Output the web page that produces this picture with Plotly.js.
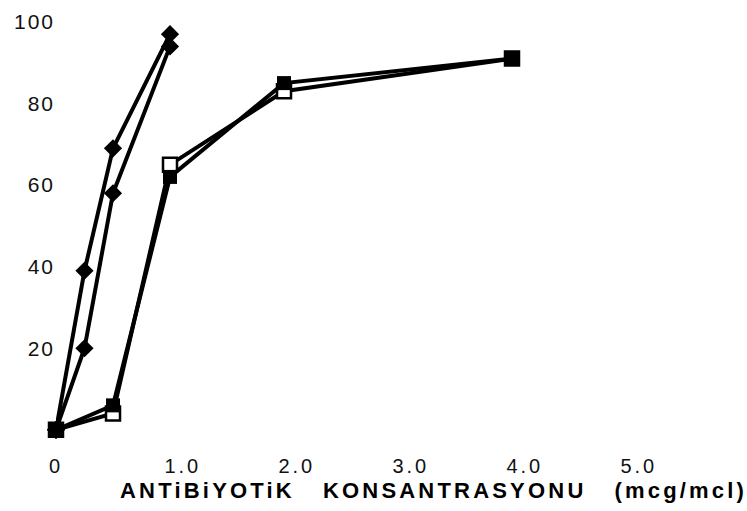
<!DOCTYPE html>
<html>
<head>
<meta charset="utf-8">
<script src="https://cdn.plot.ly/plotly-3.0.1.min.js"></script>
<style>
html,body{margin:0;padding:0;background:#fff;}
#chart{width:747px;height:511px;}
#chart .xtick text{letter-spacing:3px;}
#chart .ytick text{letter-spacing:2px;}
#chart .annotation-text{letter-spacing:3.2px;}
</style>
</head>
<body>
<div id="chart"></div>
<script>
// Antibiotic concentration (mcg/mcl)
const diamondAx = [0, 0.25, 0.5, 1.0];
const diamondAy = [0, 39, 69, 97];
const diamondBx = [0, 0.25, 0.5, 1.0];
const diamondBy = [0, 20, 58, 94];
const squareOpenX = [0, 0.5, 1.0, 2.0, 4.0];
const squareOpenY = [0, 4, 65, 83, 91];
const squareFillX = [0, 0.5, 1.0, 2.0, 4.0];
const squareFillY = [0, 6, 62, 85, 91];
const xTickVals = [0, 1, 2, 3, 4, 5];
const xTickText = ['0', '\u00a0\u00a0\u00a01.0', '\u00a0\u00a0\u00a02.0', '\u00a0\u00a0\u00a03.0', '\u00a0\u00a0\u00a04.0', '\u00a0\u00a0\u00a05.0'];
const yTickVals = [20, 40, 60, 80, 100];
const yTickText = ['20', '40', '60', '80', '100'];
const xTitle = 'ANTiBiYOTiK\u00a0\u00a0\u00a0KONSANTRASYONU\u00a0\u00a0\u00a0(mcg/mcl)';

const lineStyle = {color: '#000', width: 4};
const traces = [
  {x: diamondAx, y: diamondAy, mode: 'lines+markers', line: lineStyle, cliponaxis: false,
   marker: {symbol: 'diamond', size: 14, color: '#000'}},
  {x: diamondBx, y: diamondBy, mode: 'lines+markers', line: lineStyle, cliponaxis: false,
   marker: {symbol: 'diamond', size: 14, color: '#000'}},
  {x: squareOpenX, y: squareOpenY, mode: 'lines+markers', line: lineStyle, cliponaxis: false,
   marker: {symbol: 'square', size: 14, color: '#fff', line: {color: '#000', width: 2.5}}},
  {x: squareFillX, y: squareFillY, mode: 'lines+markers', line: lineStyle, cliponaxis: false,
   marker: {symbol: 'square', size: 14, color: '#000'}}
];

const layout = {
  width: 747, height: 511,
  margin: {l: 56, r: 7, t: 6, b: 73},
  paper_bgcolor: '#fff', plot_bgcolor: '#fff',
  showlegend: false,
  font: {family: 'Liberation Sans, Arial, sans-serif', color: '#000'},
  xaxis: {
    range: [0, 6.0], showgrid: false, zeroline: false, showline: false,
    tickvals: xTickVals, ticktext: xTickText, ticks: '',
    ticklabelstandoff: 14, tickfont: {size: 20, color: '#111'}
  },
  yaxis: {
    range: [-2, 103.9], showgrid: false, zeroline: false, showline: false,
    tickvals: yTickVals, ticktext: yTickText, ticks: '',
    ticklabelstandoff: 0, tickfont: {size: 21, color: '#111'}
  },
  annotations: [{
    text: '<b>' + xTitle + '</b>', xref: 'paper', yref: 'paper',
    x: 0.552, y: -0.087, xanchor: 'center', yanchor: 'top', showarrow: false,
    font: {size: 22, color: '#000', family: 'Liberation Sans, Arial, sans-serif'}
  }]
};

Plotly.newPlot('chart', traces, layout, {displayModeBar: false, staticPlot: true});
</script>
</body>
</html>
